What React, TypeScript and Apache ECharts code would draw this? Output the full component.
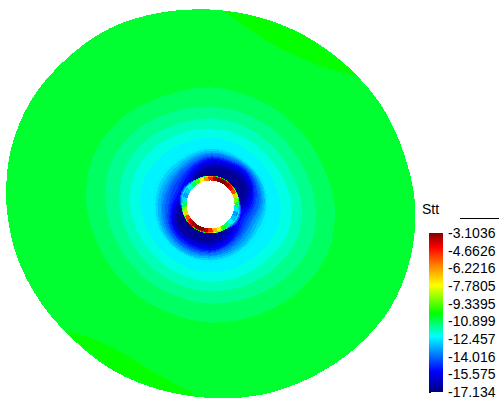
import React, { useEffect, useRef } from "react";
import * as echarts from "echarts";

const tickValues = [-17.134, -15.575, -14.016, -12.457, -10.899, -9.3395, -7.7805, -6.2216, -4.6626, -3.1036];
const legendTitle = "Stt";

const cmapT = [0, 0.13, 0.35, 0.495, 0.672, 0.787, 0.91, 1];
const cmapC = [[0, 0, 128], [0, 0, 255], [0, 255, 255], [0, 255, 0], [255, 255, 0], [255, 140, 0], [255, 0, 0], [128, 0, 0]];

// Disc outline radius every 15 degrees, counter-clockwise from east
const outlineRadii = [204.6, 200, 197.5, 194.5, 193.5, 193.5, 195, 198.5, 203, 205, 207.5, 207, 204, 200.5, 196, 192.5, 192.5, 192, 193.5, 197, 200, 204, 207.5, 207];
const outerValue = -10.58;

const patchValue = -10.15;
const patchA = { a: [86.3, 79.7, 73.5, 64.9, 52.6, 41, 45, 60, 75], r: [194, 182.4, 174.7, 170.7, 175.5, 195, 194.5, 193.5, 193.5] };
const patchB = { a: [221.2, 228.6, 239.5, 249.9, 259.5, 266.9, 255, 240, 225], r: [192.5, 177.8, 172.4, 176.2, 183.6, 192.8, 192, 192.5, 192.5] };

// Contour levels (painted outside in, then the rise back up next to the ring)
const levelValues = [-10.96, -11.31, -11.66, -12.01, -12.36, -12.43, -12.78, -13.14, -13.49, -13.84, -14.19, -14.54, -14.89, -15.24, -15.59, -15.94, -16.29, -16.57, -16.85, -14.33, -13.35, -12.5];
const levelRadii = [
  [124, 118, 116, 115, 117, 118, 124, 127, 124, 119, 117, 116, 118, 120, 124, 127],
  [105, 100, 98, 97, 98, 100, 105, 108, 105, 101, 99, 98, 99, 101, 105, 108],
  [91, 87, 85, 85, 86, 87, 91, 93, 91, 88, 86, 86, 87, 88, 90, 93],
  [81, 77, 75, 75, 76, 77, 80, 82, 80, 78, 76, 76, 77, 78, 79, 82],
  [70, 67, 66, 66, 67, 67, 69, 71, 70, 68, 67, 67, 68, 68, 69, 71],
  [58, 58, 57, 57, 58, 57, 57, 58, 58, 58, 58, 58, 59, 58, 58, 58],
  [56, 56, 55, 55, 56, 54, 54, 55, 55, 56, 56, 56, 56, 55, 54, 54],
  [54, 55, 54, 53, 54, 52, 51, 52, 53, 54, 55, 55, 54, 53, 52, 51],
  [52, 53, 53, 52, 52, 50, 48, 49, 50, 52, 53, 53, 52, 51, 49, 48],
  [50, 52, 52, 51, 51, 48, 46, 46, 48, 50, 51, 51, 51, 49, 46, 45],
  [48, 50, 51, 49, 49, 46, 44, 44, 45, 48, 50, 50, 49, 47, 44, 43],
  [45, 49, 50, 48, 48, 44, 41, 41, 42, 46, 48, 48, 48, 45, 42, 40],
  [43, 47, 49, 47, 47, 43, 39, 37, 40, 45, 47, 47, 47, 44, 40, 37],
  [41, 46, 48, 46, 46, 41, 36, 34, 38, 43, 45, 45, 46, 43, 38, 34],
  [39, 45, 46, 45, 44, 39, 33, 29, 36, 42, 44, 44, 44, 41, 35, 29],
  [37, 44, 45, 43, 42, 37, 31, 28, 34, 41, 43, 42, 42, 39, 33, 28],
  [34, 42, 43, 41, 40, 36, 29, 28, 32, 39, 41, 40, 40, 37, 30, 28],
  [30, 40, 41, 40, 38, 34, 28, 28, 29, 38, 39, 39, 38, 34, 28, 28],
  [28, 38, 39, 38, 36, 32, 28, 28, 28, 36, 37, 37, 36, 31, 28, 28],
  [30, 28, 28, 28, 28, 28, 31, 32, 30, 28, 28, 28, 28, 28, 31, 32],
  [29, 28, 28, 28, 28, 28, 30, 31, 29, 28, 28, 28, 28, 28, 30, 31],
  [28, 28, 28, 28, 28, 28, 29, 30, 28, 28, 28, 28, 28, 28, 29, 30],
];

// Ring values every 10 degrees, counter-clockwise from east
const ringInner = [-10.82, -9.0, -7.04, -5.21, -4.23, -3.53, -3.1, -3.1, -3.53, -4.79, -6.19, -7.73, -9.42, -10.82, -11.8, -12.93, -13.35, -12.64, -10.82, -8.72, -7.04, -5.21, -4.09, -3.39, -3.1, -3.1, -3.67, -4.79, -6.61, -8.01, -9.84, -11.1, -12.08, -12.93, -13.35, -12.5];
const ringMiddle = [-11.4, -10.0, -8.2, -6.6, -5.6, -5.0, -4.7, -4.7, -5.0, -6.0, -7.4, -8.8, -10.2, -11.4, -12.3, -13.3, -13.7, -13.0, -11.4, -9.6, -8.2, -6.6, -5.5, -4.9, -4.7, -4.7, -5.1, -6.0, -7.7, -9.0, -10.6, -11.7, -12.6, -13.3, -13.7, -13.0];
const ringEdge = [-11.6, -11.2, -10.8, -10.4, -10.2, -10.0, -10.0, -10.0, -10.2, -10.4, -10.8, -11.2, -11.6, -12.0, -12.4, -12.8, -13.0, -12.6, -11.6, -11.2, -10.8, -10.4, -10.2, -10.0, -10.0, -10.0, -10.2, -10.4, -10.8, -11.2, -11.6, -12.0, -12.4, -12.8, -13.0, -12.4];
const ringRadii = [29, 28.5, 27.8];
const holeRadius = 24;

const vMin = tickValues[0];
const vMax = tickValues[tickValues.length - 1];

function colorOf(v: number) {
  const t = Math.max(0, Math.min(1, (v - vMin) / (vMax - vMin)));
  let i = 0;
  while (i < cmapT.length - 2 && t > cmapT[i + 1]) i++;
  const f = (t - cmapT[i]) / (cmapT[i + 1] - cmapT[i]);
  const c = cmapC[i].map((x, k) => Math.round(x + (cmapC[i + 1][k] - x) * f));
  return `rgb(${c[0]},${c[1]},${c[2]})`;
}
const polar = (aDeg: number, r: number) => {
  const a = (aDeg * Math.PI) / 180;
  return [r * Math.cos(a), r * Math.sin(a)];
};

export default function App() {
  const ref = useRef<HTMLDivElement>(null);
  useEffect(() => {
    document.body.style.margin = "0";
    const chart = echarts.init(ref.current!, undefined, { renderer: "svg" });

    const polyItem = (api: any, pts: number[][], fill: string, smooth = 0) => ({
      type: "polygon",
      shape: { points: pts.map((p) => api.coord(p)), smooth, smoothConstraint: false },
      style: { fill, stroke: null },
    });

    const ringData: number[][] = [];
    ringRadii.forEach((r, layer) => {
      const arr = [ringEdge, ringMiddle, ringInner][layer];
      arr.forEach((v, i) => ringData.push([i * 10, v, r]));
    });

    chart.setOption({
      animation: false,
      backgroundColor: "#fff",
      grid: [
        { left: 0, top: 0, width: 501, height: 404 },
        { left: 429, top: 233, width: 14, height: 159 },
      ],
      xAxis: [
        { type: "value", gridIndex: 0, min: -210.5, max: 290.5, show: false },
        { type: "value", gridIndex: 1, min: 0, max: 1, show: false },
      ],
      yAxis: [
        { type: "value", gridIndex: 0, min: -199.5, max: 204.5, show: false },
        {
          type: "value",
          gridIndex: 1,
          min: vMin,
          max: vMax,
          position: "right",
          axisLine: { show: false },
          splitLine: { show: false },
          axisTick: { show: true, length: 2, customValues: tickValues, lineStyle: { color: "#000", width: 1 } },
          axisLabel: {
            show: true,
            customValues: tickValues,
            margin: 5,
            color: "#000",
            fontFamily: "Liberation Sans",
            fontSize: 14,
            formatter: (v: number) => String(v),
          },
        },
      ],
      series: [
        {
          type: "custom",
          xAxisIndex: 0,
          yAxisIndex: 0,
          silent: true,
          data: [[0, outerValue]],
          renderItem: (_: any, api: any) =>
            polyItem(api, outlineRadii.map((r, i) => polar(i * 15, r)), colorOf(api.value(1)), 0.33),
        },
        {
          type: "custom",
          xAxisIndex: 0,
          yAxisIndex: 0,
          silent: true,
          data: [[0, patchValue], [1, patchValue]],
          renderItem: (p: any, api: any) => {
            const patch = p.dataIndex === 0 ? patchA : patchB;
            return polyItem(api, patch.a.map((a, i) => polar(a, patch.r[i])), colorOf(api.value(1)));
          },
        },
        {
          type: "custom",
          xAxisIndex: 0,
          yAxisIndex: 0,
          silent: true,
          data: levelValues.map((v, i) => [i, v]),
          renderItem: (p: any, api: any) => {
            const radii = levelRadii[p.dataIndex];
            return polyItem(api, radii.map((r, i) => polar(i * 22.5, r)), colorOf(api.value(1)), 0.33);
          },
        },
        {
          type: "custom",
          xAxisIndex: 0,
          yAxisIndex: 0,
          silent: true,
          data: ringData,
          renderItem: (_: any, api: any) => {
            const a = api.value(0);
            const v = api.value(1);
            const r = api.value(2);
            const pts = [
              polar(a - 5.5, r), polar(a - 2.5, r), polar(a, r), polar(a + 2.5, r), polar(a + 5.5, r),
              polar(a + 5.5, holeRadius - 1), polar(a - 5.5, holeRadius - 1),
            ];
            return polyItem(api, pts, colorOf(v));
          },
        },
        {
          type: "custom",
          xAxisIndex: 0,
          yAxisIndex: 0,
          silent: true,
          data: [[0, 0, holeRadius]],
          renderItem: (_: any, api: any) => {
            const c = api.coord([api.value(0), api.value(1)]);
            return { type: "circle", shape: { cx: c[0], cy: c[1], r: api.value(2) }, style: { fill: "#fff" } };
          },
        },
        {
          type: "custom",
          xAxisIndex: 1,
          yAxisIndex: 1,
          silent: true,
          data: [[0, vMin, 1, vMax]],
          renderItem: (_: any, api: any) => {
            const p0 = api.coord([api.value(0), api.value(3)]);
            const p1 = api.coord([api.value(2), api.value(1)]);
            return {
              type: "rect",
              shape: { x: p0[0], y: p0[1], width: p1[0] - p0[0], height: p1[1] - p0[1] },
              style: {
                fill: new echarts.graphic.LinearGradient(0, 1, 0, 0,
                  cmapT.map((t, i) => ({ offset: t, color: `rgb(${cmapC[i].join(",")})` }))),
              },
            };
          },
        },
      ],
      graphic: [
        { type: "text", x: 422, y: 202, style: { text: legendTitle, fontFamily: "Liberation Sans", fontSize: 14, fill: "#000" } },
        { type: "line", shape: { x1: 460, y1: 218.5, x2: 499, y2: 218.5 }, style: { stroke: "#000", lineWidth: 1 } },
      ],
    });
    return () => chart.dispose();
  }, []);
  return (
    <div
      ref={ref}
      style={{ position: "fixed", left: 0, top: 0, width: 501, height: 404, background: "#fff", shapeRendering: "crispEdges" } as any}
    />
  );
}
